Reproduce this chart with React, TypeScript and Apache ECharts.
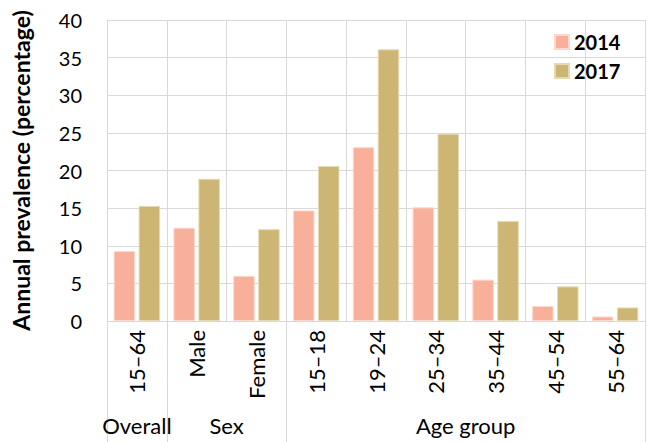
import React, { useEffect, useRef } from "react";
import * as echarts from "echarts";

const categories = ["15–64", "Male", "Female", "15–18", "19–24", "25–34", "35–44", "45–54", "55–64"];
const groupLabels = ["Overall", "Sex", "Age group"];
const groupSizes = [1, 2, 6];
const values2014 = [9.3, 12.4, 6.0, 14.7, 23.1, 15.1, 5.5, 2.0, 0.6];
const values2017 = [15.3, 18.9, 12.2, 20.6, 36.1, 24.9, 13.3, 4.6, 1.8];
const seriesNames = ["2014", "2017"];
const yTicks = { min: 0, max: 40, interval: 5 };

const FONT = "Lato";
const GRID = "#D9D9D9";

export default function App() {
  const ref = useRef<HTMLDivElement>(null);
  useEffect(() => {
    if (!ref.current) return;
    const chart = echarts.init(ref.current, null, { renderer: "svg" });
    const bounds: number[] = [0];
    groupSizes.forEach((s) => bounds.push(bounds[bounds.length - 1] + s));
    const centers = groupSizes.map((s, i) => bounds[i] + s / 2);
    chart.setOption({
      animation: false,
      grid: { left: 107, right: 3, top: 20, bottom: 121, containLabel: false },
      legend: {
        orient: "vertical",
        left: 549,
        top: 27,
        icon: "rect",
        itemWidth: 14,
        itemHeight: 14,
        itemGap: 9,
        textStyle: { fontFamily: FONT, fontWeight: "bold", fontSize: 20, color: "#000" },
        data: seriesNames,
      },
      xAxis: [
        {
          type: "category",
          data: categories,
          position: "bottom",
          axisLine: { show: true, lineStyle: { color: GRID, width: 1 } },
          axisTick: { show: false },
          splitLine: { show: true, interval: 0, lineStyle: { color: GRID, width: 1 } },
          axisLabel: {
            interval: 0,
            rotate: 90,
            margin: 9,
            fontFamily: FONT,
            fontSize: 22,
            color: "#000",
          },
        },
        {
          type: "value",
          min: 0,
          max: categories.length,
          position: "bottom",
          axisLine: { show: false },
          splitLine: { show: false },
          axisTick: {
            show: true,
            customValues: bounds,
            length: 125,
            lineStyle: { color: GRID, width: 1 },
          },
          axisLabel: {
            show: true,
            customValues: centers,
            margin: 93,
            fontFamily: FONT,
            fontSize: 22,
            color: "#000",
            formatter: (v: number) => {
              const i = centers.findIndex((c) => Math.abs(c - v) < 1e-6);
              return i >= 0 ? groupLabels[i] : "";
            },
          },
        },
      ],
      yAxis: {
        type: "value",
        min: yTicks.min,
        max: yTicks.max,
        interval: yTicks.interval,
        name: "Annual prevalence (percentage)",
        nameLocation: "middle",
        nameGap: 75,
        nameTextStyle: { fontFamily: FONT, fontWeight: "bold", fontSize: 23, color: "#000" },
        axisLine: { show: true, lineStyle: { color: GRID } },
        axisTick: { show: false },
        splitLine: { show: true, lineStyle: { color: GRID, width: 1 } },
        axisLabel: { margin: 25, fontFamily: FONT, fontSize: 20, color: "#000" },
      },
      series: [
        {
          name: seriesNames[0],
          type: "bar",
          data: values2014,
          barWidth: "36%",
          barGap: "16%",
          itemStyle: { color: "#F8B09A", borderColor: "#FCD9CD", borderWidth: 1 },
        },
        {
          name: seriesNames[1],
          type: "bar",
          data: values2017,
          barWidth: "36%",
          barGap: "16%",
          itemStyle: { color: "#CDB673", borderColor: "#E6DAB4", borderWidth: 1 },
        },
      ],
    });
    return () => chart.dispose();
  }, []);
  return <div ref={ref} style={{ width: 648, height: 442, position: "absolute", left: 0, top: 0 }} />;
}
